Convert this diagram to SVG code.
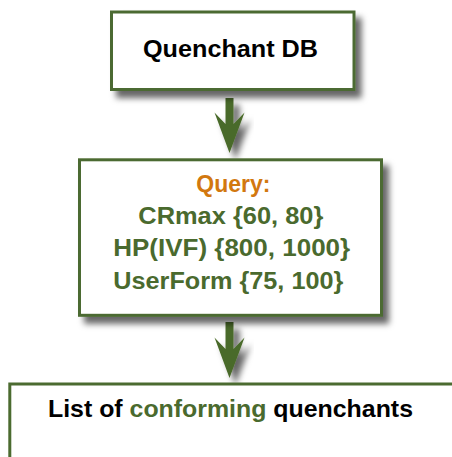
<svg xmlns="http://www.w3.org/2000/svg" width="452" height="457" viewBox="0 0 452 457">
<defs>
<filter id="sh" x="-20%" y="-20%" width="150%" height="150%">
<feDropShadow dx="6" dy="7" stdDeviation="3.2" flood-color="#000" flood-opacity="0.6"/>
</filter>
<style>
.box{fill:#fff;stroke:#4b6b30;stroke-width:3}
.t{font-family:"Liberation Sans",Arial,Helvetica,sans-serif;font-weight:bold;font-size:24px;text-anchor:middle}
.blk{fill:#000}
.grn{fill:#4a6a2e}
.org{fill:#d2780f}
.arr{fill:#4a6a2a}
</style>
</defs>
<rect width="452" height="457" fill="#fff"/>
<g id="connectors">
<path class="arr" filter="url(#sh)" d="M225.5,98 L233.5,98 L233.5,124 L244.5,112.5 L229.5,153 L214.5,112.5 L225.5,124 Z"/>
<path class="arr" filter="url(#sh)" d="M225.5,322 L233.5,322 L233.5,349 L244.5,337.5 L229.5,378 L214.5,337.5 L225.5,349 Z"/>
</g>
<g id="quenchant-db">
<rect class="box" filter="url(#sh)" x="111.5" y="12" width="242.5" height="77.5"/>
<text class="t blk" x="230.5" y="57" textLength="175" lengthAdjust="spacingAndGlyphs">Quenchant DB</text>
</g>
<g id="query">
<rect class="box" filter="url(#sh)" x="79.5" y="159.8" width="302" height="155.5"/>
<text class="t org" x="233.3" y="192" textLength="74" lengthAdjust="spacingAndGlyphs">Query:</text>
<text class="t grn" x="230.8" y="223.5" textLength="185" lengthAdjust="spacingAndGlyphs">CRmax {60, 80}</text>
<text class="t grn" x="231.7" y="255.5" textLength="237" lengthAdjust="spacingAndGlyphs">HP(IVF) {800, 1000}</text>
<text class="t grn" x="228.3" y="288.5" textLength="230" lengthAdjust="spacingAndGlyphs">UserForm {75, 100}</text>
</g>
<g id="result-list">
<rect class="box" x="9.8" y="384" width="460" height="100"/>
<text class="t blk" x="230.5" y="417" textLength="365" lengthAdjust="spacingAndGlyphs">List of <tspan class="grn">conforming</tspan> quenchants</text>
</g>
</svg>
